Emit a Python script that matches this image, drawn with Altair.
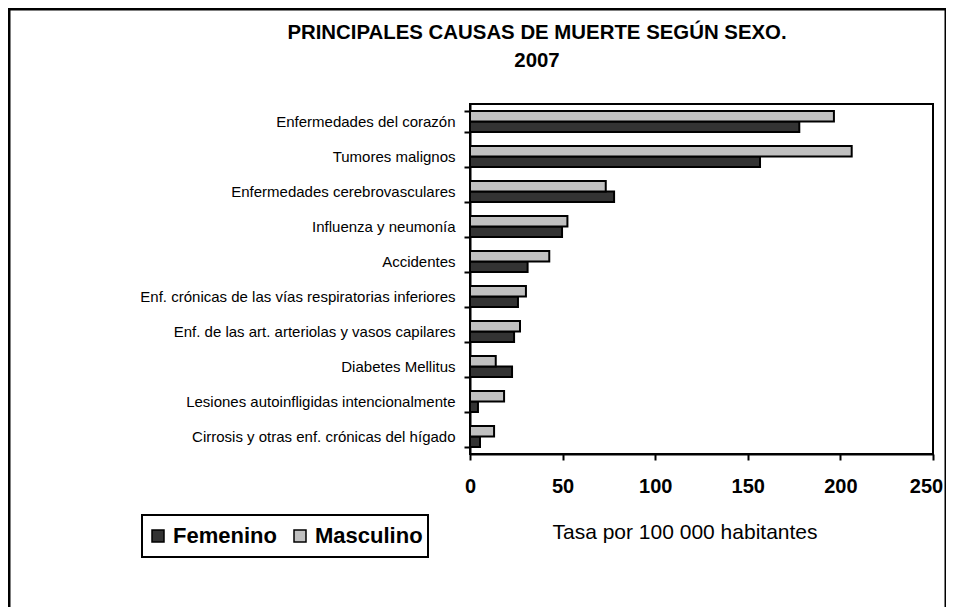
import altair as alt
import pandas as pd

causas = [
    "Enfermedades del corazón",
    "Tumores malignos",
    "Enfermedades cerebrovasculares",
    "Influenza y neumonía",
    "Accidentes",
    "Enf. crónicas de las vías respiratorias inferiores",
    "Enf. de las art. arteriolas y vasos capilares",
    "Diabetes Mellitus",
    "Lesiones autoinfligidas intencionalmente",
    "Cirrosis y otras enf. crónicas del hígado",
]
femenino = [177.8, 156.6, 77.8, 49.7, 31.1, 25.9, 23.8, 22.7, 4.3, 5.4]
masculino = [196.5, 206.1, 73.3, 52.6, 42.8, 30.2, 27.0, 13.9, 18.4, 13.0]
sexos = ["Femenino", "Masculino"]
colores = ["#333333", "#C0C0C0"]
x_ticks = [0, 50, 100, 150, 200, 250]

rows = []
for c, f, m in zip(causas, femenino, masculino):
    rows.append({"causa": c, "sexo": "Femenino", "tasa": f})
    rows.append({"causa": c, "sexo": "Masculino", "tasa": m})
df = pd.DataFrame(rows)

FONT = "Liberation Sans"

bars = alt.Chart(df).mark_bar(stroke="black", strokeWidth=2).encode(
    y=alt.Y(
        "causa:N",
        sort=causas,
        title=None,
        scale=alt.Scale(paddingInner=0.4, paddingOuter=0.2),
        axis=alt.Axis(
            tickBand="extent",
            labelFontSize=15,
            labelFont=FONT,
            labelColor="black",
            labelLimit=400,
            labelPadding=9,
            tickSize=6,
            tickWidth=2,
            tickColor="black",
            domainColor="black",
            domainWidth=2,
        ),
    ),
    yOffset=alt.YOffset("sexo:N", sort=["Masculino", "Femenino"]),
    x=alt.X(
        "tasa:Q",
        scale=alt.Scale(domain=[0, 250], nice=False),
        axis=alt.Axis(
            values=x_ticks,
            grid=False,
            title="Tasa por 100 000 habitantes",
            titleFont=FONT,
            titleFontSize=21,
            titleFontWeight="normal",
            titleColor="black",
            titleX=214.5,
            titleY=78,
            titleBaseline="middle",
            titleAlign="center",
            labelFont=FONT,
            labelFontSize=20,
            labelFontWeight="bold",
            labelColor="black",
            labelPadding=16,
            labelFlush=False,
            labelOffset={"condition": {"test": "datum.value == 250", "value": -7}, "value": 0},
            tickSize=6,
            tickWidth=2,
            tickColor="black",
            domainColor="black",
            domainWidth=2,
        ),
    ),
    color=alt.Color(
        "sexo:N",
        sort=sexos,
        scale=alt.Scale(domain=sexos, range=colores),
        legend=alt.Legend(
            title=None,
            orient="none",
            legendX=-328,
            legendY=411,
            direction="horizontal",
            symbolType="square",
            symbolSize=144,
            symbolStrokeColor="black",
            symbolStrokeWidth=1.5,
            symbolOpacity=1,
            labelFont=FONT,
            labelFontSize=22,
            labelFontWeight="bold",
            labelColor="black",
            labelOffset=4,
            columnPadding=12,
            padding=5,
            clipHeight=32,
            strokeColor="black",
        ),
    ),
)

frame = alt.Chart(pd.DataFrame({"a": [0]})).mark_rect(
    fillOpacity=0, stroke="black", strokeWidth=3
).encode(
    x=alt.value(-461),
    x2=alt.value(476),
    y=alt.value(-95),
    y2=alt.value(600),
)

chart = alt.layer(frame, bars).properties(
    width=463,
    height=350,
    autosize=alt.AutoSizeParams(type="none"),
    padding={"left": 462, "top": 96, "right": 13, "bottom": 153},
    title=alt.Title(
        text=["PRINCIPALES CAUSAS DE MUERTE SEGÚN SEXO.", "2007"],
        font=FONT,
        fontSize=20.4,
        fontWeight="bold",
        color="black",
        anchor="middle",
        frame="group",
        dx=-164.5,
        lineHeight=28,
        baseline="bottom",
        offset=-83.5,
    ),
).configure_view(stroke="black", strokeWidth=2).configure_legend(strokeWidth=2)

chart.save("out.html", embed_options={"renderer": "svg", "actions": False})
